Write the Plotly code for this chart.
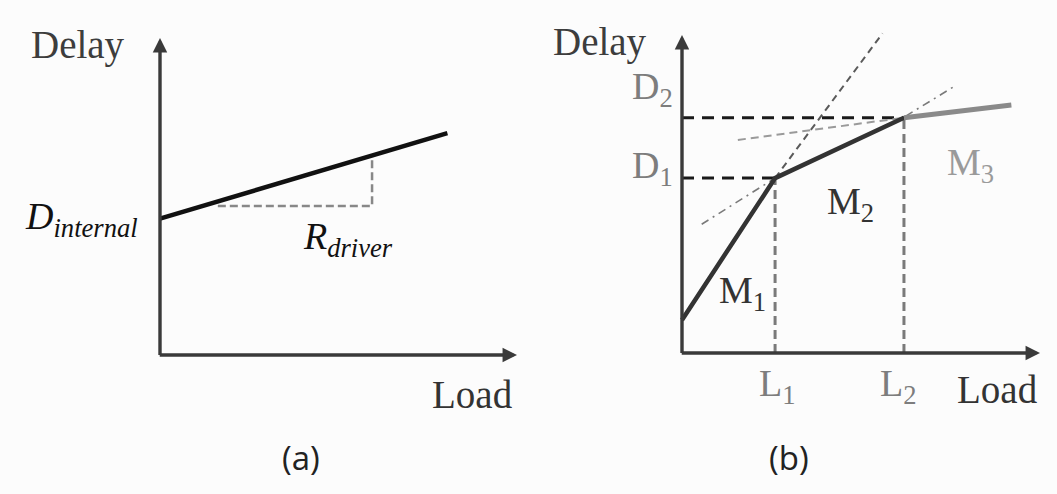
import plotly.graph_objects as go

# ---- panel (a): linear delay model ----
load_a = [0.0, 8.05]
delay_a = [4.3, 7.0]
slope_tri_load = [1.62, 5.94, 5.94]
slope_tri_delay = [4.7, 4.7, 6.3]

# ---- panel (b): piecewise-linear delay model ----
L1, L2 = 2.6, 6.2
D1, D2 = 5.5, 7.4
seg12_load = [0.0, L1, L2]
seg12_delay = [1.04, D1, D2]
seg3_load = [L2, 9.2]
seg3_delay = [D2, 7.8]

ext_m1_load = [L1, 5.6]
ext_m1_delay = [D1, 10.05]
ext_m2_left_load = [0.55, 2.7]
ext_m2_left_delay = [4.05, 5.57]
ext_m2_right_load = [6.25, 7.57]
ext_m2_right_delay = [7.45, 8.36]
ext_m3_load = [1.56, L2]
ext_m3_delay = [6.70, D2]

W, H = 1057, 494
SERIF = "Liberation Serif"
AXIS_COLOR = "#3a3a3a"


def axis_range(p0, p10, lo, hi):
    """Data range spanning pixel interval [lo, hi] given pixel positions of 0 and 10."""
    s = (p10 - p0) / 10.0
    return [(lo - p0) / s, (hi - p0) / s]


fig = go.Figure()


def line(x, y, color, width, dash="solid", ax="x", ay="y"):
    fig.add_trace(go.Scatter(x=x, y=y, mode="lines", xaxis=ax, yaxis=ay,
                             line=dict(color=color, width=width, dash=dash),
                             hoverinfo="skip", showlegend=False))


# panel (a)
line(slope_tri_load, slope_tri_delay, "#888888", 2.5, "8px,4px")
line(load_a, delay_a, "#111111", 4.5)

# panel (b)
line([0, L2], [D2, D2], "#1a1a1a", 3, "12px,8px", "x2", "y2")
line([0, L1], [D1, D1], "#1a1a1a", 3, "12px,8px", "x2", "y2")
line([L1, L1], [0, D1], "#7a7a7a", 3, "9px,5px", "x2", "y2")
line([L2, L2], [0, D2], "#7a7a7a", 3, "9px,5px", "x2", "y2")
line(ext_m1_load, ext_m1_delay, "#5a5a5a", 2, "7px,5px", "x2", "y2")
line(ext_m2_left_load, ext_m2_left_delay, "#7a7a7a", 1.6, "8px,5px,2px,5px", "x2", "y2")
line(ext_m2_right_load, ext_m2_right_delay, "#7a7a7a", 1.6, "8px,5px,2px,5px", "x2", "y2")
line(ext_m3_load, ext_m3_delay, "#9a9a9a", 2, "8px,5px", "x2", "y2")
line(seg12_load, seg12_delay, "#333333", 4.5, "solid", "x2", "y2")
line(seg3_load, seg3_delay, "#8a8a8a", 5, "solid", "x2", "y2")

annotations = []

# axes drawn as arrows
for xr, yr in (("x", "y"), ("x2", "y2")):
    for tip, tail in (((0, 10), (0, -0.05)), ((10, 0), (-0.05, 0))):
        annotations.append(dict(x=tip[0], y=tip[1], ax=tail[0], ay=tail[1],
                                xref=xr, yref=yr, axref=xr, ayref=yr,
                                text="", showarrow=True, arrowhead=2,
                                arrowsize=0.85, arrowwidth=3.4,
                                arrowcolor=AXIS_COLOR,
                                font=dict(family=SERIF, size=10)))


def label(text, x, y, xr, yr, color="#333333", size=38, xanchor="center"):
    annotations.append(dict(text=text, x=x, y=y, xref=xr, yref=yr, showarrow=False,
                            xanchor=xanchor, yanchor="middle",
                            font=dict(family=SERIF, size=size, color=color)))


# panel (a) labels
label("Delay", -2.3, 9.78, "x", "y", "#3d3d3d", 39)
label("Load", 8.74, -1.26, "x", "y", "#333333", 39)
label("<i>D<sub>internal</sub></i>", -0.55, 4.28, "x", "y", "#111111", 38, "right")
label("<i>R<sub>driver</sub></i>", 3.95, 3.67, "x", "y", "#111111", 38, "left")

# panel (b) labels
label("Delay", -2.29, 9.78, "x2", "y2", "#3d3d3d", 39)
label("D<sub>2</sub>", -0.2, 8.3, "x2", "y2", "#7d7d7d", 38, "right")
label("D<sub>1</sub>", -0.2, 5.83, "x2", "y2", "#7d7d7d", 38, "right")
label("M<sub>1</sub>", 0.98, 1.88, "x2", "y2", "#333333", 38, "left")
label("M<sub>2</sub>", 4.0, 4.68, "x2", "y2", "#333333", 38, "left")
label("M<sub>3</sub>", 7.35, 5.9, "x2", "y2", "#9a9a9a", 38, "left")
label("L<sub>1</sub>", 2.09, -1.05, "x2", "y2", "#7d7d7d", 38, "left")
label("L<sub>2</sub>", 5.47, -1.05, "x2", "y2", "#7d7d7d", 38, "left")
label("Load", 7.63, -1.16, "x2", "y2", "#333333", 39, "left")

# panel captions
for txt, px in (("(a)", 301), ("(b)", 789)):
    annotations.append(dict(text=txt, x=px / W, y=1 - 457 / H, xref="paper", yref="paper",
                            showarrow=False, xanchor="center", yanchor="middle",
                            font=dict(family="Open Sans", size=33, color="#222222")))

hidden = dict(visible=False, showgrid=False, zeroline=False, fixedrange=True)
fig.update_layout(
    width=W, height=H,
    margin=dict(l=0, r=0, t=0, b=0),
    paper_bgcolor="#fcfcfc", plot_bgcolor="rgba(0,0,0,0)",
    showlegend=False,
    xaxis=dict(domain=[0, 0.5], range=axis_range(160, 517, 0, W / 2), **hidden),
    yaxis=dict(domain=[0, 1], range=axis_range(H - 355, H - 38, 0, H), **hidden),
    xaxis2=dict(domain=[0.5, 1], range=axis_range(682 - W / 2, 1040 - W / 2, 0, W / 2), **hidden),
    yaxis2=dict(domain=[0, 1], range=axis_range(H - 353, H - 35, 0, H), anchor="x2", **hidden),
    annotations=annotations,
)

fig.write_html("out.html")
